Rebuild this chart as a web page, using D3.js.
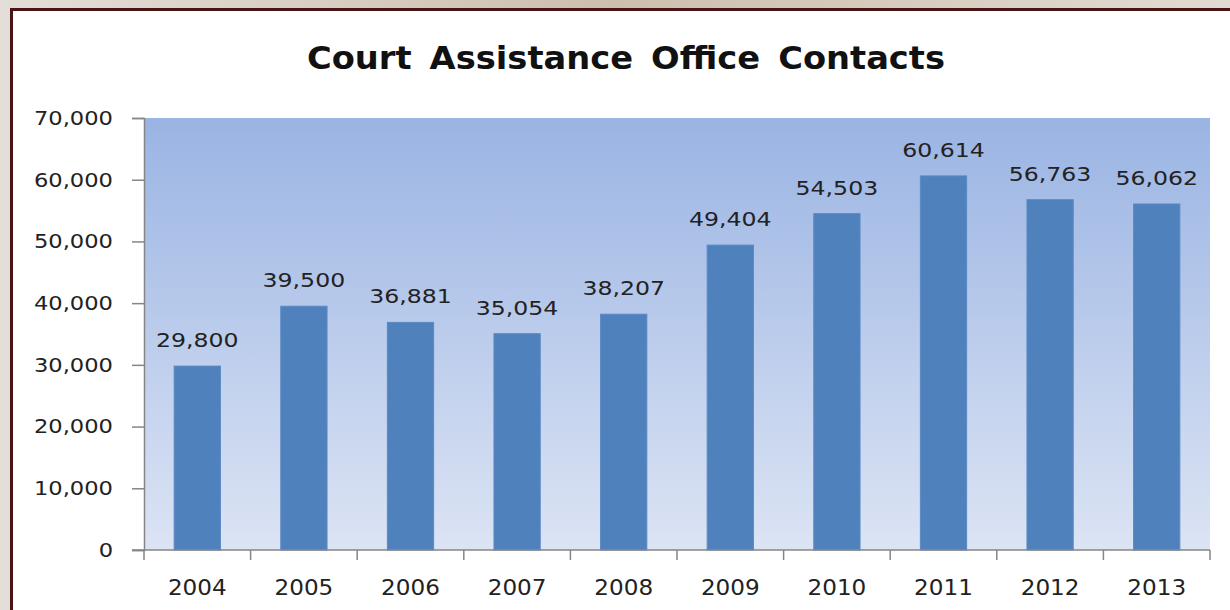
<!DOCTYPE html>
<html>
<head>
<meta charset="utf-8">
<script src="https://cdn.jsdelivr.net/npm/d3@7"></script>
<style>
  body { margin: 0; background: #d9d1c9; }
  svg { display: block; }
</style>
</head>
<body>
<svg id="chart" width="1230" height="610"></svg>
<script>
// chart data
var years = ['2004', '2005', '2006', '2007', '2008', '2009', '2010', '2011', '2012', '2013'];
var contacts = [29800, 39500, 36881, 35054, 38207, 49404, 54503, 60614, 56763, 56062];
var yTicks = [0, 10000, 20000, 30000, 40000, 50000, 60000, 70000];
var title = 'Court Assistance Office Contacts';

var svg = d3.select('#chart');
var fmt = d3.format(',');

// the picture is stretched sideways a bit, so widen text the same way
function stretch(sel, k) {
    sel.each(function() {
        var len = this.getComputedTextLength();
        d3.select(this).attr('textLength', len * k).attr('lengthAdjust', 'spacingAndGlyphs');
    });
}

// textured backdrop + framed white chart box
var bg = svg.append('defs').append('linearGradient').attr('id', 'bg')
    .attr('x1', 0).attr('y1', 0).attr('x2', 1).attr('y2', 0);
bg.append('stop').attr('offset', '0').attr('stop-color', '#e4ded8');
bg.append('stop').attr('offset', '0.5').attr('stop-color', '#cdbfae');
bg.append('stop').attr('offset', '1').attr('stop-color', '#e2dbd3');
svg.append('rect').attr('width', 1230).attr('height', 610).attr('fill', 'url(#bg)');

svg.append('rect')
    .attr('x', 11.5).attr('y', 9.5)
    .attr('width', 1240).attr('height', 620)
    .attr('fill', '#ffffff')
    .attr('stroke', '#4a1414')
    .attr('stroke-width', 3);

var plot = { left: 144, right: 1210, top: 118, bottom: 550 };

var grad = svg.select('defs').append('linearGradient').attr('id', 'plotbg')
    .attr('x1', 0).attr('y1', 0).attr('x2', 0).attr('y2', 1);
grad.append('stop').attr('offset', '0').attr('stop-color', '#9ab4e3');
grad.append('stop').attr('offset', '1').attr('stop-color', '#dce4f4');

var x = d3.scaleBand().domain(years).range([plot.left, plot.right])
    .paddingInner(0.566).paddingOuter(0.283);
var y = d3.scaleLinear().domain([0, 70000]).range([plot.bottom, plot.top]);

svg.append('rect')
    .attr('x', plot.left).attr('y', plot.top)
    .attr('width', plot.right - plot.left).attr('height', plot.bottom - plot.top)
    .attr('fill', 'url(#plotbg)');

// bars
svg.selectAll('.bar')
    .data(contacts)
    .enter().append('rect')
    .attr('class', 'bar')
    .attr('x', (d, i) => x(years[i]))
    .attr('y', d => y(d))
    .attr('width', x.bandwidth())
    .attr('height', d => y(0) - y(d))
    .attr('fill', '#4f81bd')
    .attr('stroke', '#5a8ac4')
    .attr('stroke-width', 1);

// y axis
var yAxis = svg.append('g')
    .attr('transform', 'translate(' + plot.left + ',0)')
    .call(d3.axisLeft(y).tickValues(yTicks).tickFormat(fmt).tickSize(12).tickPadding(19));
yAxis.select('.domain').attr('stroke', '#868686').attr('stroke-width', 1.5);
yAxis.selectAll('.tick line').attr('stroke', '#868686').attr('stroke-width', 1.5);
yAxis.selectAll('text')
    .attr('fill', '#222')
    .style('font-family', 'DejaVu Sans')
    .style('font-size', '20px');
stretch(yAxis.selectAll('text'), 1.13);

// x axis: ticks sit on the category boundaries
var bounds = d3.range(years.length + 1).map(i => plot.left + i * x.step());
var xAxis = svg.append('g');
xAxis.append('line')
    .attr('x1', plot.left - 12).attr('x2', plot.right)
    .attr('y1', plot.bottom).attr('y2', plot.bottom)
    .attr('stroke', '#868686').attr('stroke-width', 1.5);
xAxis.selectAll('.xtick')
    .data(bounds)
    .enter().append('line')
    .attr('x1', d => d).attr('x2', d => d)
    .attr('y1', plot.bottom).attr('y2', plot.bottom + 10)
    .attr('stroke', '#868686').attr('stroke-width', 1.5);
var xLabels = xAxis.selectAll('.xlabel')
    .data(years)
    .enter().append('text')
    .attr('x', d => x(d) + x.bandwidth() / 2)
    .attr('y', 595)
    .attr('text-anchor', 'middle')
    .attr('fill', '#222')
    .style('font-family', 'DejaVu Sans')
    .style('font-size', '21px')
    .text(d => d);
stretch(xLabels, 1.1);

// value labels
var vLabels = svg.selectAll('.vlabel')
    .data(contacts)
    .enter().append('text')
    .attr('x', (d, i) => x(years[i]) + x.bandwidth() / 2)
    .attr('y', d => y(d) - 19)
    .attr('text-anchor', 'middle')
    .attr('fill', '#222')
    .style('font-family', 'DejaVu Sans')
    .style('font-size', '20px')
    .text(d => fmt(d));
stretch(vLabels, 1.18);

// title
var t = svg.append('text')
    .attr('x', 626)
    .attr('y', 69)
    .attr('text-anchor', 'middle')
    .attr('fill', '#111')
    .style('font-family', 'DejaVu Sans')
    .style('font-weight', 'bold')
    .style('font-size', '32px')
    .style('word-spacing', '6px')
    .text(title);
t.attr('textLength', 638).attr('lengthAdjust', 'spacingAndGlyphs');
</script>
</body>
</html>
